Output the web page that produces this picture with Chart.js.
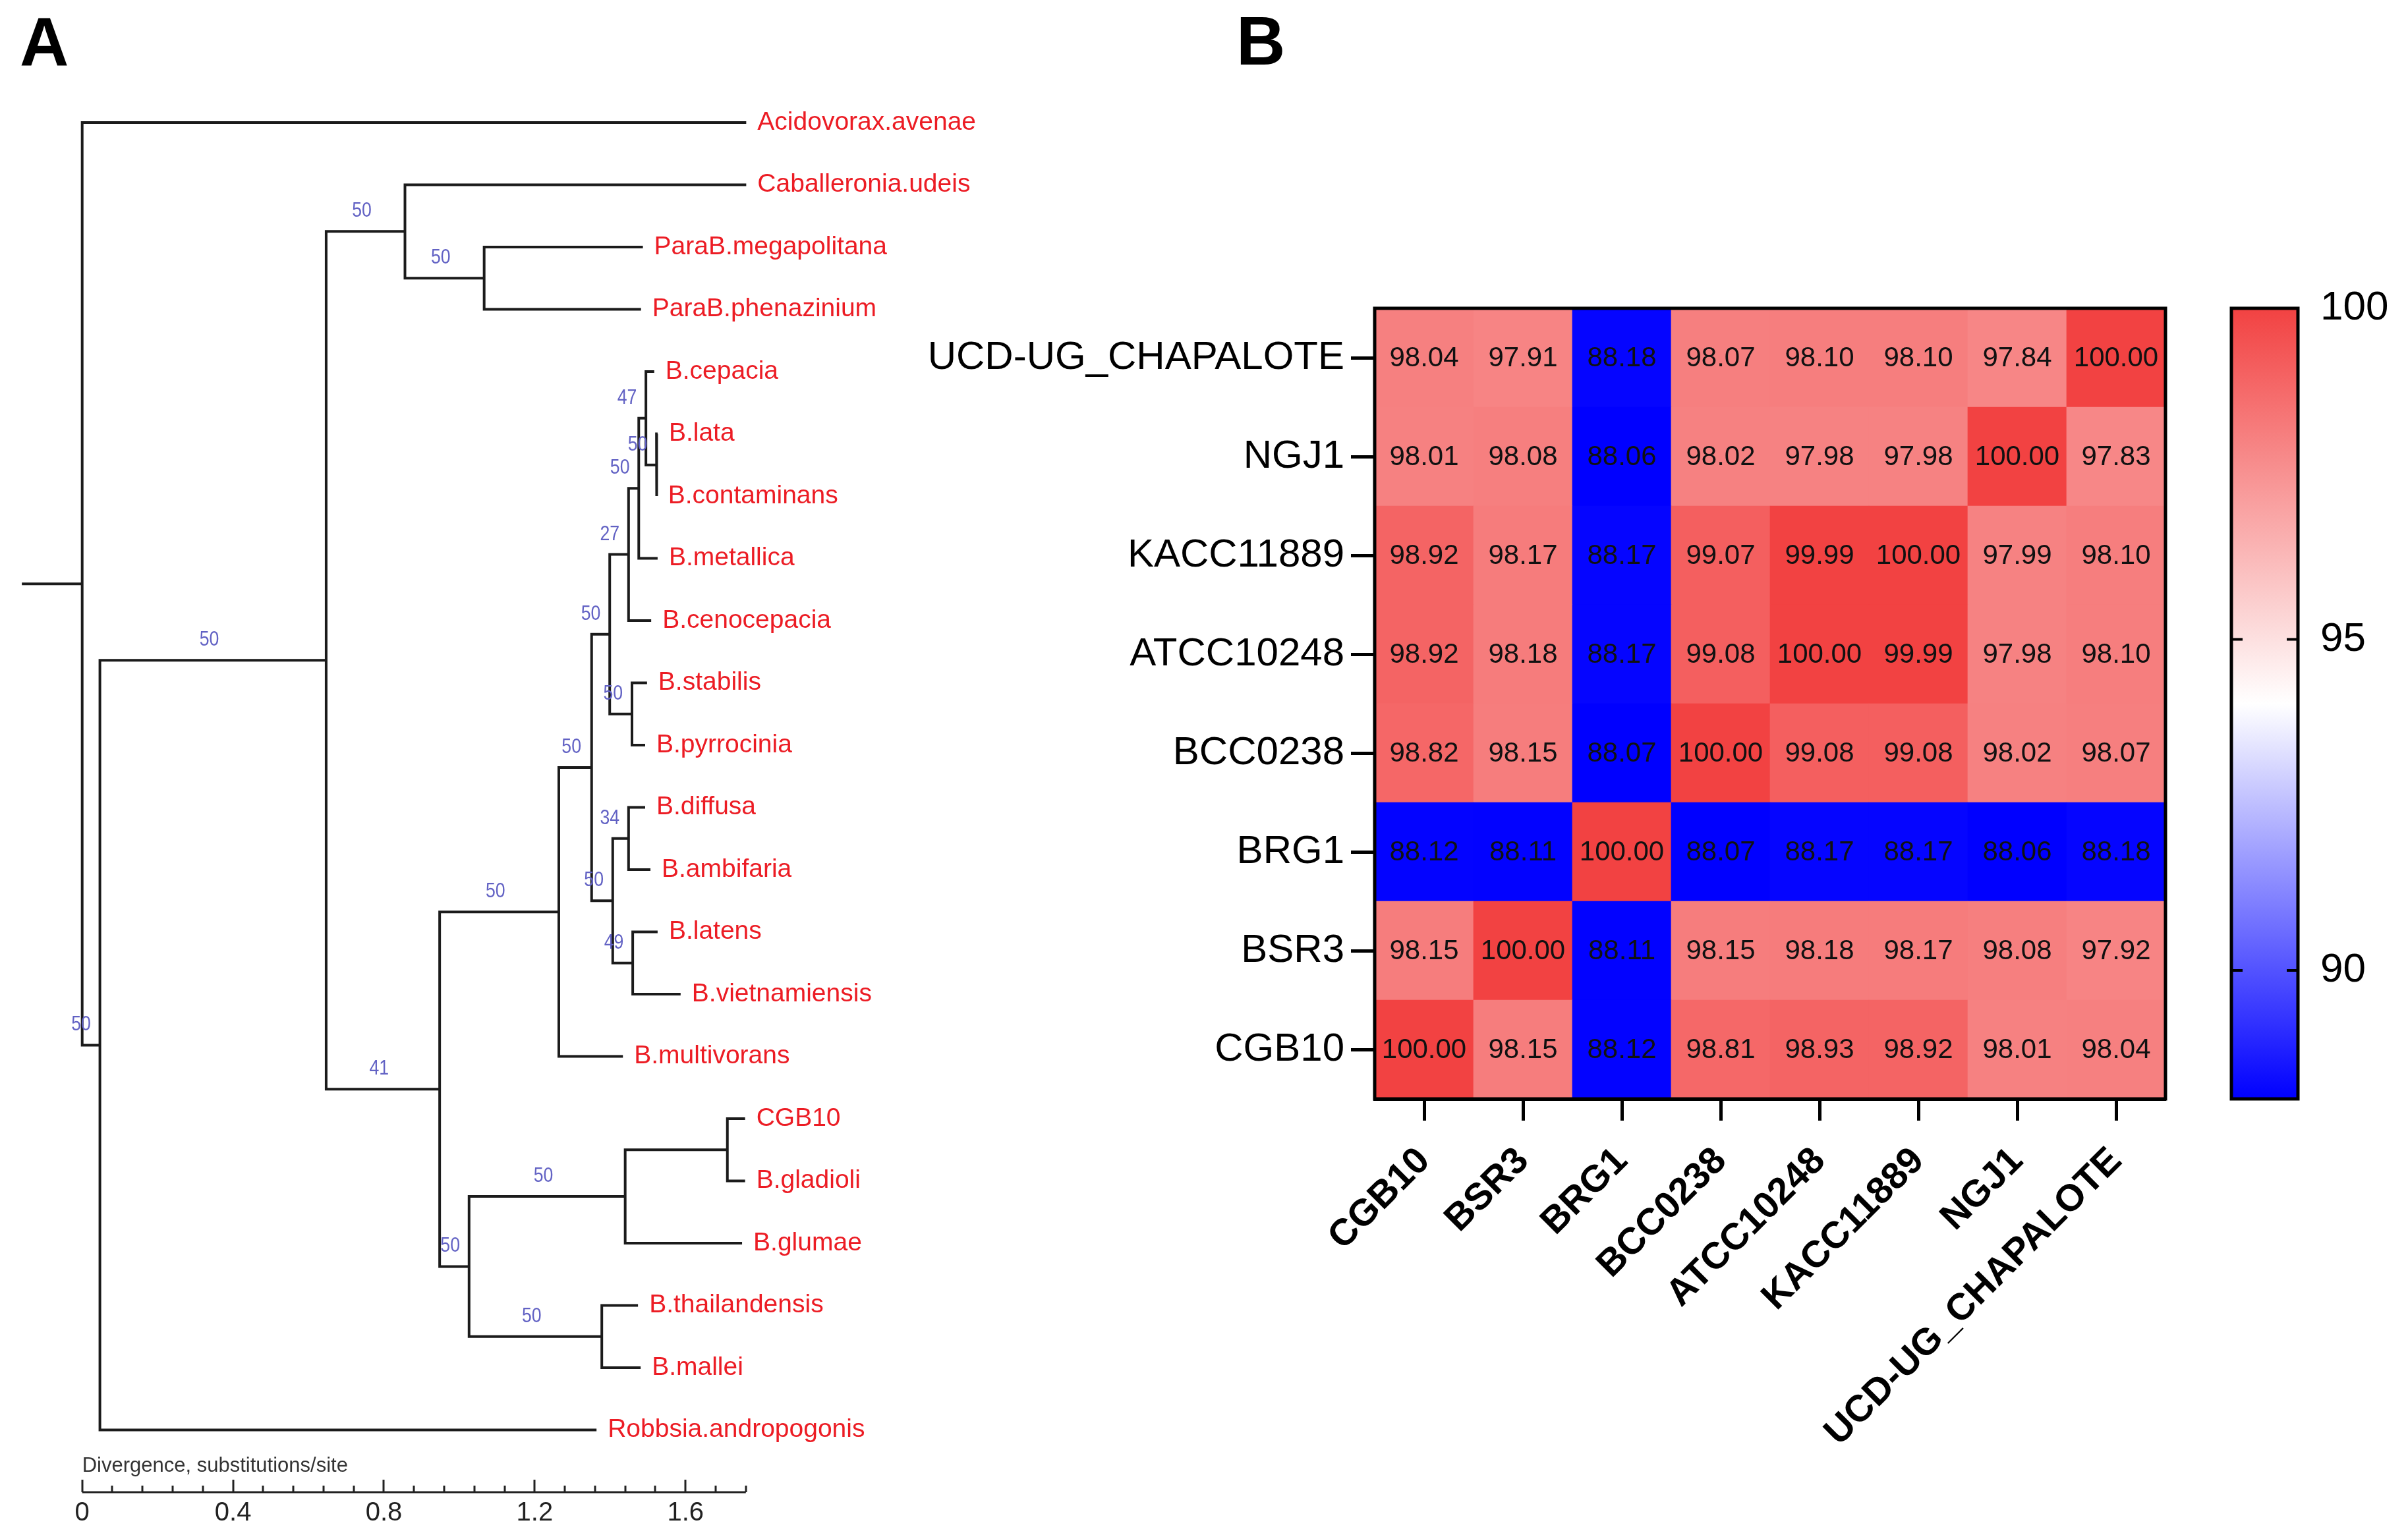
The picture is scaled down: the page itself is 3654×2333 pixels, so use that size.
<!DOCTYPE html>
<html>
<head>
<meta charset="utf-8">
<title>Phylogeny and ANI heatmap</title>
<script src="https://cdn.jsdelivr.net/npm/chart.js@4.4.1/dist/chart.umd.min.js"></script>
<style>
  html, body { margin: 0; padding: 0; background: #fff; }
  #page { position: relative; width: 3654px; height: 2333px; overflow: hidden; background: #fff;
          font-family: "Liberation Sans", Arial, sans-serif; }
  .panel { position: absolute; top: 0; }
  .tag { position: absolute; font-weight: bold; font-size: 103px; line-height: 1; color: #000; }
</style>
</head>
<body>
<div id="page">
  <canvas id="tree" class="panel" style="left:0" width="1540" height="2333"></canvas>
  <canvas id="heat" class="panel" style="left:1380px" width="1960" height="2333"></canvas>
  <canvas id="bar" class="panel" style="left:3300px" width="354" height="2333"></canvas>
  <div class="tag" style="left:30px;top:12px">A</div>
  <div class="tag" style="left:1876px;top:11px">B</div>
</div>
<script>
// ---------- panel A: tree data ----------
const taxa = ['Acidovorax.avenae', 'Caballeronia.udeis', 'ParaB.megapolitana', 'ParaB.phenazinium',
  'B.cepacia', 'B.lata', 'B.contaminans', 'B.metallica', 'B.cenocepacia', 'B.stabilis',
  'B.pyrrocinia', 'B.diffusa', 'B.ambifaria', 'B.latens', 'B.vietnamiensis', 'B.multivorans',
  'CGB10', 'B.gladioli', 'B.glumae', 'B.thailandensis', 'B.mallei', 'Robbsia.andropogonis'];
const tipDivergence = [1.761, 1.761, 1.487, 1.482, 1.517, 1.526, 1.524, 1.526, 1.509, 1.498,
  1.493, 1.493, 1.507, 1.526, 1.587, 1.434, 1.758, 1.758, 1.750, 1.474, 1.481, 1.364];

const nodeIds = ['root', 'n1', 'n2', 'n3', 'n5', 'n4', 'n6', 'n11', 'n12', 'n14', 'n15',
  'n16', 'n17', 'n18', 'n13', 'n19', 'n20', 'n7', 'n8', 'n10', 'n9'];
const nodeDivergence = [0, 0.047, 0.647, 0.856, 1.066, 0.948, 1.264, 1.351, 1.399, 1.449, 1.476,
  1.495, 1.523, 1.458, 1.407, 1.449, 1.460, 1.026, 1.440, 1.711, 1.378];
const nodeSupport = [null, 50, 50, 50, 50, 41, 50, 50, 50, 27, 50, 47, 50, 50, 50, 34, 49, 50, 50, null, 50];
const nodeChildren = [
  ['Acidovorax.avenae', 'n1'],
  ['n2', 'Robbsia.andropogonis'],
  ['n3', 'n4'],
  ['Caballeronia.udeis', 'n5'],
  ['ParaB.megapolitana', 'ParaB.phenazinium'],
  ['n6', 'n7'],
  ['n11', 'B.multivorans'],
  ['n12', 'n13'],
  ['n14', 'n18'],
  ['n15', 'B.cenocepacia'],
  ['n16', 'B.metallica'],
  ['B.cepacia', 'n17'],
  ['B.lata', 'B.contaminans'],
  ['B.stabilis', 'B.pyrrocinia'],
  ['n19', 'n20'],
  ['B.diffusa', 'B.ambifaria'],
  ['B.latens', 'B.vietnamiensis'],
  ['n8', 'n9'],
  ['n10', 'B.glumae'],
  ['CGB10', 'B.gladioli'],
  ['B.thailandensis', 'B.mallei']
];
const rootBranch = 0.16;
const divergenceTicks = [0, 0.4, 0.8, 1.2, 1.6];
const divergenceMinor = 0.08;
const divergenceEnd = 1.76;

// ---------- panel B: ANI matrix ----------
const strains = ['CGB10', 'BSR3', 'BRG1', 'BCC0238', 'ATCC10248', 'KACC11889', 'NGJ1', 'UCD-UG_CHAPALOTE'];
const aniCGB10     = [100.00, 98.15, 88.12, 98.81, 98.93, 98.92, 98.01, 98.04];
const aniBSR3      = [98.15, 100.00, 88.11, 98.15, 98.18, 98.17, 98.08, 97.92];
const aniBRG1      = [88.12, 88.11, 100.00, 88.07, 88.17, 88.17, 88.06, 88.18];
const aniBCC0238   = [98.82, 98.15, 88.07, 100.00, 99.08, 99.08, 98.02, 98.07];
const aniATCC10248 = [98.92, 98.18, 88.17, 99.08, 100.00, 99.99, 97.98, 98.10];
const aniKACC11889 = [98.92, 98.17, 88.17, 99.07, 99.99, 100.00, 97.99, 98.10];
const aniNGJ1      = [98.01, 98.08, 88.06, 98.02, 97.98, 97.98, 100.00, 97.83];
const aniUCD       = [98.04, 97.91, 88.18, 98.07, 98.10, 98.10, 97.84, 100.00];
const colorTicks = [90, 95, 100];

// rows from bottom (CGB10) to top (UCD-UG_CHAPALOTE)
const rows = [aniCGB10, aniBSR3, aniBRG1, aniBCC0238, aniATCC10248, aniKACC11889, aniNGJ1, aniUCD];

Chart.defaults.font.family = '"Liberation Sans", Arial, sans-serif';
Chart.defaults.color = '#000';

// ---------- tree layout ----------
const parentOf = {};
nodeIds.forEach((id, k) => nodeChildren[k].forEach(c => { parentOf[c] = id; }));

function place(id) {
  const t = taxa.indexOf(id);
  if (t >= 0) return { x: tipDivergence[t], y: t };
  const k = nodeIds.indexOf(id);
  const ys = nodeChildren[k].map(c => place(c).y);
  return { x: nodeDivergence[k], y: (ys[0] + ys[ys.length - 1]) / 2 };
}

function branchLine(points) {
  return {
    data: points, showLine: true, borderColor: '#1b1b1b', backgroundColor: '#1b1b1b',
    borderWidth: 4, pointRadius: 0, borderJoinStyle: 'miter', tension: 0
  };
}

const branchSets = nodeIds.map((id, k) => {
  const kids = nodeChildren[k].map(place);
  const nx = nodeDivergence[k];
  const a = kids[0], b = kids[kids.length - 1];
  return branchLine([a, { x: nx, y: a.y }, { x: nx, y: b.y }, b]);
});
const rootY = place('root').y;
branchSets.push(branchLine([{ x: -rootBranch, y: rootY }, { x: 0, y: rootY }]));

const treeText = {
  id: 'treeText',
  afterDatasetsDraw(chart) {
    const { ctx, chartArea } = chart;
    const x = chart.scales.x, y = chart.scales.y;
    ctx.save();

    // tip names
    ctx.font = '39px "Liberation Sans", Arial, sans-serif';
    ctx.fillStyle = '#ec1c24';
    ctx.textAlign = 'left';
    ctx.textBaseline = 'middle';
    taxa.forEach((name, i) => {
      ctx.fillText(name, x.getPixelForValue(tipDivergence[i]) + 17, y.getPixelForValue(i));
    });

    // bootstrap values
    ctx.font = '31px "Liberation Sans", Arial, sans-serif';
    ctx.fillStyle = '#6262c4';
    ctx.textAlign = 'center';
    ctx.textBaseline = 'alphabetic';
    nodeIds.forEach((id, k) => {
      const s = nodeSupport[k];
      if (s == null) return;
      const p = place(id);
      const px = nodeDivergence[nodeIds.indexOf(parentOf[id])];
      const mid = Math.min((px + p.x) / 2, p.x - 0.04) - 0.01;
      ctx.save();
      ctx.translate(x.getPixelForValue(mid), y.getPixelForValue(p.y) - 22);
      ctx.scale(0.86, 1);
      ctx.fillText(String(s), 0, 0);
      ctx.restore();
    });

    // divergence axis, ticks pointing up
    const base = chartArea.bottom;
    ctx.strokeStyle = '#222';
    ctx.lineWidth = 3;
    ctx.beginPath();
    ctx.moveTo(x.getPixelForValue(0), base);
    ctx.lineTo(x.getPixelForValue(divergenceEnd), base);
    const n = Math.round(divergenceEnd / divergenceMinor);
    for (let i = 0; i <= n; i++) {
      const px = Math.round(x.getPixelForValue(i * divergenceMinor));
      ctx.moveTo(px, base);
      ctx.lineTo(px, base - (i % 5 === 0 ? 19 : 10));
    }
    ctx.stroke();

    ctx.font = '31px "Liberation Sans", Arial, sans-serif';
    ctx.fillStyle = '#333';
    ctx.textAlign = 'left';
    ctx.fillText('Divergence, substitutions/site', x.getPixelForValue(0), base - 31);
    ctx.restore();
  }
};

new Chart(document.getElementById('tree'), {
  type: 'scatter',
  data: { datasets: branchSets },
  options: {
    responsive: false,
    animation: false,
    layout: { padding: { left: 10.26, right: 13.4, top: 0, bottom: 0 } },
    plugins: { legend: { display: false }, tooltip: { enabled: false }, colors: { enabled: false } },
    scales: {
      x: {
        type: 'linear', min: -0.2, max: 2.45,
        afterBuildTicks: s => { s.ticks = divergenceTicks.map(v => ({ value: v })); },
        afterFit: s => { s.height = 68; },
        ticks: {
          autoSkip: false, maxRotation: 0, padding: 8, color: '#222', font: { size: 40 },
          callback: v => (v === 0 ? '0' : v.toFixed(1))
        },
        grid: { display: false, drawTicks: false },
        border: { display: false }
      },
      y: { type: 'linear', min: -1.968, max: 22, reverse: true, display: false }
    }
  },
  plugins: [treeText]
});

// ---------- heatmap ----------
const cMin = Math.min(...rows.flat());
const cMax = Math.max(...rows.flat());
const cMid = (cMin + cMax) / 2;

function colorFor(v) {
  let f, end;
  if (v >= cMid) { f = (v - cMid) / (cMax - cMid); end = [242, 66, 66]; }
  else { f = (cMid - v) / (cMid - cMin); end = [0, 0, 255]; }
  f = Math.max(0, Math.min(1, f));
  const c = end.map(e => Math.round(255 + (e - 255) * f));
  return 'rgb(' + c.join(',') + ')';
}

const cellText = {
  id: 'cellText',
  afterDatasetsDraw(chart) {
    const { ctx } = chart;
    ctx.save();
    ctx.font = '42px "Liberation Sans", Arial, sans-serif';
    ctx.fillStyle = '#111';
    ctx.textAlign = 'center';
    ctx.textBaseline = 'middle';
    rows.forEach((vals, r) => {
      chart.getDatasetMeta(r).data.forEach((bar, c) => {
        const p = bar.getProps(['x', 'y', 'base'], true);
        ctx.fillText(vals[c].toFixed(2), p.x, (p.y + p.base) / 2 + 1);
      });
    });
    ctx.restore();
  }
};

const frame = {
  id: 'frame',
  afterDraw(chart) {
    const { ctx, chartArea: a } = chart;
    ctx.save();
    ctx.strokeStyle = '#000';
    ctx.lineWidth = 5;
    ctx.strokeRect(a.left, a.top, a.right - a.left, a.bottom - a.top);
    ctx.restore();
  }
};

new Chart(document.getElementById('heat'), {
  type: 'bar',
  data: {
    labels: strains,
    datasets: rows.map((vals, r) => ({
      label: strains[r],
      data: vals.map(() => [r, r + 1]),
      backgroundColor: vals.map(colorFor),
      borderWidth: 0,
      grouped: false,
      barPercentage: 1,
      categoryPercentage: 1
    }))
  },
  options: {
    responsive: false,
    animation: false,
    layout: { padding: { left: 0, top: 468, right: 54, bottom: 0 } },
    plugins: { legend: { display: false }, tooltip: { enabled: false }, colors: { enabled: false } },
    scales: {
      x: {
        type: 'category',
        afterFit: s => { s.height = 665; },
        ticks: { autoSkip: false, minRotation: 45, maxRotation: 45, padding: 28,
                 font: { size: 57, weight: 'bold' }, color: '#000' },
        grid: { offset: false, drawOnChartArea: false, tickLength: 33, tickWidth: 5, tickColor: '#000' },
        border: { display: true, color: '#000', width: 5 }
      },
      y: {
        type: 'linear', min: 0, max: 8,
        afterBuildTicks: s => { s.ticks = strains.map((_, i) => ({ value: i + 0.5 })); },
        afterFit: s => { s.width = 706; },
        ticks: { autoSkip: false, padding: 10, font: { size: 60 }, color: '#000',
                 callback: (v, i) => strains[i] },
        grid: { drawOnChartArea: false, tickLength: 36, tickWidth: 5, tickColor: '#000' },
        border: { display: true, color: '#000', width: 5 }
      }
    }
  },
  plugins: [cellText, frame]
});

// ---------- colour bar ----------
function gradientFill(c) {
  const chart = c.chart;
  if (!chart.chartArea) return colorFor(cMid);
  const ys = chart.scales.y;
  const g = chart.ctx.createLinearGradient(0, ys.getPixelForValue(cMin), 0, ys.getPixelForValue(cMax));
  for (let i = 0; i <= 20; i++) {
    const v = cMin + (cMax - cMin) * i / 20;
    g.addColorStop(i / 20, colorFor(v));
  }
  return g;
}

const barFrame = {
  id: 'barFrame',
  afterDraw(chart) {
    const { ctx, chartArea: a } = chart;
    const ys = chart.scales.y;
    ctx.save();
    ctx.strokeStyle = '#000';
    ctx.lineWidth = 4;
    ctx.beginPath();
    colorTicks.filter(v => v < cMax).forEach(v => {
      const py = ys.getPixelForValue(v);
      ctx.moveTo(a.left, py); ctx.lineTo(a.left + 17, py);
      ctx.moveTo(a.right - 17, py); ctx.lineTo(a.right, py);
    });
    ctx.stroke();
    ctx.lineWidth = 5;
    ctx.strokeRect(a.left, a.top, a.right - a.left, a.bottom - a.top);
    ctx.restore();
  }
};

new Chart(document.getElementById('bar'), {
  type: 'bar',
  data: {
    labels: ['Identity'],
    datasets: [{ data: [[cMin, cMax]], backgroundColor: gradientFill, borderWidth: 0,
                 barPercentage: 1, categoryPercentage: 1 }]
  },
  options: {
    responsive: false,
    animation: false,
    layout: { padding: { left: 86, top: 468, right: 0, bottom: 665 } },
    plugins: { legend: { display: false }, tooltip: { enabled: false }, colors: { enabled: false } },
    scales: {
      x: { display: false },
      y: {
        position: 'right', min: cMin, max: cMax,
        afterBuildTicks: s => { s.ticks = colorTicks.map(v => ({ value: v })); },
        afterFit: s => { s.width = 167; },
        ticks: { padding: 34, font: { size: 62 }, color: '#000' },
        grid: { drawOnChartArea: false, drawTicks: false },
        border: { display: false }
      }
    }
  },
  plugins: [barFrame]
});
</script>
</body>
</html>
